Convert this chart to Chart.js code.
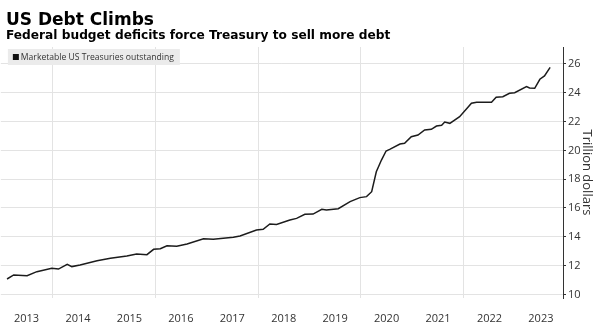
<!DOCTYPE html>
<html>
<head>
<meta charset="utf-8">
<script src="https://cdn.jsdelivr.net/npm/chart.js@4.4.0/dist/chart.umd.min.js"></script>
<style>
  html, body { margin: 0; padding: 0; background: #fff; }
  .wrap { position: relative; width: 598px; height: 325px; }
  #myChart { position: absolute; left: 0; top: 0; }
  .title { position: absolute; left: 6px; top: 9px; font: bold 17px/20px "DejaVu Sans"; color: #000; white-space: nowrap; }
  .subtitle { position: absolute; left: 6px; top: 28px; font: bold 12.2px/15px "DejaVu Sans"; color: #000; white-space: nowrap; }
</style>
</head>
<body>
<div class="wrap">
  <canvas id="myChart" width="598" height="325"></canvas>
  <div class="title">US Debt Climbs</div>
  <div class="subtitle">Federal budget deficits force Treasury to sell more debt</div>
</div>
<script>
// decimal years
const dates = [2013.12, 2013.25, 2013.51, 2013.70, 2013.99, 2014.12, 2014.29, 2014.38, 2014.54, 2014.87,
    2015.13, 2015.45, 2015.64, 2015.84, 2015.97, 2016.10, 2016.23, 2016.42, 2016.62, 2016.94,
    2017.13, 2017.52, 2017.65, 2017.97, 2018.10, 2018.23, 2018.36, 2018.62, 2018.75, 2018.91,
    2019.07, 2019.24, 2019.33, 2019.56, 2019.79, 2019.98, 2020.11, 2020.21, 2020.30, 2020.40,
    2020.49, 2020.56, 2020.76, 2020.85, 2020.98, 2021.11, 2021.24, 2021.37, 2021.47, 2021.57,
    2021.63, 2021.73, 2021.92, 2022.15, 2022.25, 2022.54, 2022.63, 2022.76, 2022.89, 2022.99,
    2023.22, 2023.28, 2023.38, 2023.48, 2023.57, 2023.68]

// trillion dollars
const debt = [11.07, 11.35, 11.30, 11.58, 11.81, 11.76, 12.09, 11.93, 12.04, 12.34,
    12.51, 12.67, 12.81, 12.76, 13.13, 13.17, 13.38, 13.34, 13.50, 13.87,
    13.83, 13.97, 14.06, 14.47, 14.52, 14.89, 14.85, 15.16, 15.28, 15.56,
    15.58, 15.91, 15.86, 15.95, 16.44, 16.72, 16.79, 17.13, 18.52, 19.33,
    19.96, 20.07, 20.44, 20.49, 20.95, 21.07, 21.42, 21.46, 21.69, 21.74,
    21.97, 21.88, 22.34, 23.27, 23.34, 23.34, 23.69, 23.73, 23.97, 24.01,
    24.43, 24.33, 24.31, 24.94, 25.17, 25.77]

const yearLabels = [2013, 2014, 2015, 2016, 2017, 2018, 2019, 2020, 2021, 2022, 2023]
const gridYears = [2014, 2016, 2018, 2020, 2022]
const yTicks = [10, 12, 14, 16, 18, 20, 22, 24, 26]

const legendBox = {
    id: 'legendBox',
    afterDatasetsDraw(chart) {
        const { ctx, chartArea } = chart
        const label = chart.data.datasets[0].label
        ctx.save()
        ctx.font = '8.6px "Open Sans"'
        const w = ctx.measureText(label).width
        ctx.fillStyle = '#ebebeb'
        ctx.fillRect(chartArea.left + 7, chartArea.top + 2, w + 19, 16)
        ctx.fillStyle = '#111'
        ctx.fillRect(chartArea.left + 12, chartArea.top + 7, 6, 6)
        ctx.fillStyle = '#333'
        ctx.textBaseline = 'middle'
        ctx.fillText(label, chartArea.left + 20, chartArea.top + 10.5)
        ctx.restore()
    }
}

const data = {
    datasets: [{
        label: 'Marketable US Treasuries outstanding',
        data: dates.map((d, i) => ({ x: d, y: debt[i] })),
        borderColor: '#1c1c1c',
        borderWidth: 1.5,
        pointRadius: 0,
        tension: 0
    }]
}

const config = {
    type: 'line',
    data,
    options: {
        responsive: false,
        animation: false,
        layout: { padding: { top: 47, left: 0, right: 0, bottom: 0 } },
        plugins: {
            legend: { display: false },
            tooltip: { enabled: false }
        },
        scales: {
            x: {
                type: 'linear',
                min: 2013,
                max: 2023.93,
                afterBuildTicks: (scale) => {
                    const vals = gridYears.concat(yearLabels.map(y => y + 0.5)).sort((a, b) => a - b)
                    scale.ticks = vals.map(v => ({ value: v }))
                },
                afterFit: (scale) => { scale.height = 27 },
                grid: {
                    color: (ctx) => ctx.tick && Number.isInteger(ctx.tick.value) ? '#e3e3e3' : 'rgba(0,0,0,0)',
                    drawTicks: false
                },
                border: { display: false },
                ticks: {
                    autoSkip: false,
                    maxRotation: 0,
                    padding: 14,
                    color: '#333',
                    font: { family: 'Open Sans', size: 11 },
                    callback: (v) => Number.isInteger(v) ? '' : String(Math.floor(v))
                }
            },
            y: {
                position: 'right',
                min: 9.75,
                max: 27.18,
                afterBuildTicks: (scale) => {
                    scale.ticks = yTicks.map(v => ({ value: v }))
                },
                afterFit: (scale) => { scale.width = 35 },
                grid: {
                    color: '#e3e3e3',
                    tickColor: '#333',
                    tickLength: 3
                },
                border: { display: true, color: '#333', width: 1 },
                ticks: {
                    padding: 2,
                    color: '#333',
                    font: { family: 'Open Sans', size: 11 }
                },
                title: {
                    display: true,
                    text: 'Trillion dollars',
                    color: '#333',
                    font: { family: 'Open Sans', size: 13 },
                    padding: { top: 3, bottom: 0 }
                }
            }
        }
    },
    plugins: [legendBox]
}

let myChart = new Chart(document.getElementById('myChart'), config)
</script>
</body>
</html>
